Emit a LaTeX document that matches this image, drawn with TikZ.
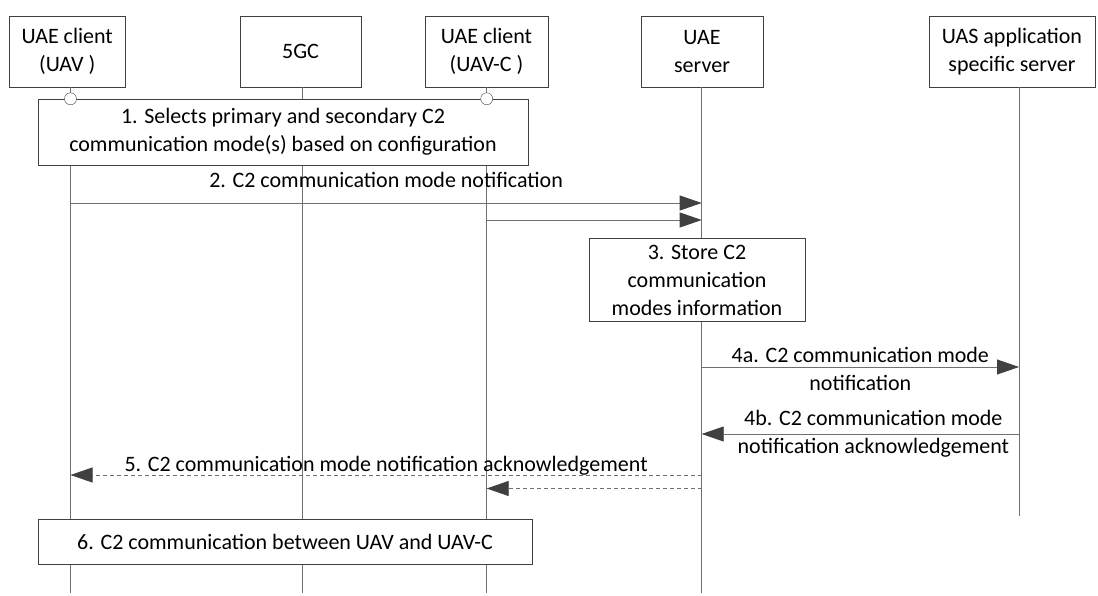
\documentclass[tikz,border=0pt]{standalone}
\usepackage{fontspec}
\setmainfont{Carlito}
\usetikzlibrary{arrows.meta}
\definecolor{linegray}{HTML}{707070}
\definecolor{tipgray}{HTML}{404040}

\begin{document}
\begin{tikzpicture}[x=1pt, y=-1pt,
          font = \fontsize{22}{28}\selectfont,
   actor/.style = {rectangle, draw=tipgray, fill=white, minimum height=71pt, align=center, inner sep=2pt},
 stepbox/.style = {rectangle, draw=tipgray, fill=white, align=center, inner sep=2pt},
    life/.style = {draw=linegray, line width=0.8pt},
     msg/.style = {draw=linegray, line width=0.8pt, -{Triangle[length=22pt, width=15pt, color=tipgray]}},
   reply/.style = {msg, dash pattern=on 4pt off 3pt},
     hub/.style = {circle, draw=tipgray, fill=white, minimum size=12pt, inner sep=0pt}
                        ]
\useasboundingbox (0,0) rectangle (1098,596);
% lifeline ends
\coordinate (uav-end)  at (70.5,593);
\coordinate (cn-end)   at (302.7,593);
\coordinate (uavc-end) at (486.7,593);
\coordinate (uaes-end) at (701.7,593);
\coordinate (uas-end)  at (1019,516);
% actors
\node (uav)  [actor, minimum width=116pt] at (67.2,51.5) {UAE client\\(UAV )};
\node (cn)   [actor, minimum width=121pt] at (300.5,51.5) {5GC};
\node (uavc) [actor, minimum width=123pt] at (486.5,51.5) {UAE client\\(UAV-C )};
\node (uaes) [actor, minimum width=122pt] at (702,51.5) {UAE\\server};
\node (uas)  [actor, minimum width=166pt] at (1012,51.5) {UAS application\\specific server};
\foreach \a in {uav, cn, uavc, uaes, uas}
  \draw[life] (\a.south -| \a-end) -- (\a-end);
% steps
\node (select) [stepbox, minimum width=490pt, minimum height=66pt] at (283,132)
      {1. Selects primary and secondary C2\\communication mode(s) based on configuration};
\node (uav-hub)  [hub] at (select.north -| uav-end) {};
\node (uavc-hub) [hub] at (select.north -| uavc-end) {};
\node (store)  [stepbox, minimum width=216pt, minimum height=83pt] at (697,280)
      {3. Store C2\\communication\\modes information};
\node (c2link) [stepbox, minimum width=494pt, minimum height=45pt] at (285,541.5)
      {6. C2 communication between UAV and UAV-C};
% messages
\draw[msg] (uav-end |- 0,203) -- node[above=12pt] {2. C2 communication mode notification} (uaes-end |- 0,203);
\draw[msg] (uavc-end |- 0,220) -- (uaes-end |- 0,220);
\draw[msg] (uaes-end |- 0,367) -- node[align=center, yshift=-2pt] {4a. C2 communication mode\\notification} (uas-end |- 0,367);
\draw[msg] (uas-end |- 0,434) -- node[align=center, xshift=13pt] {4b. C2 communication mode\\notification acknowledgement} (uaes-end |- 0,434);
\draw[reply] (uaes-end |- 0,475) -- node[above, inner sep=0pt, yshift=-1pt] {5. C2 communication mode notification acknowledgement} (uav-end |- 0,475);
\draw[reply] (uaes-end |- 0,488.5) -- (uavc-end |- 0,488.5);
\end{tikzpicture}
\end{document}
